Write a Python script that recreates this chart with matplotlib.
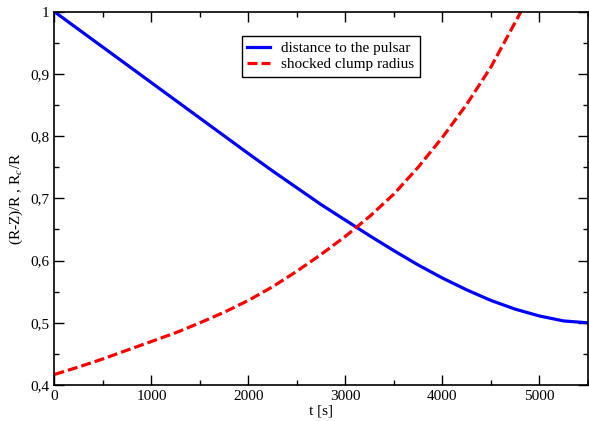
import matplotlib
matplotlib.use("Agg")
import matplotlib.pyplot as plt
from matplotlib.ticker import MultipleLocator, FuncFormatter

t_dist = [0, 500, 1000, 1500, 2000, 2250, 2500, 2750, 3000, 3250, 3500, 3750,
          4000, 4250, 4500, 4750, 5000, 5250, 5500]
dist = [1.000, 0.943, 0.886, 0.829, 0.772, 0.744, 0.717, 0.690, 0.665, 0.640, 0.616, 0.593,
        0.572, 0.553, 0.536, 0.522, 0.511, 0.503, 0.500]

t_clump = [0, 250, 500, 750, 1000, 1250, 1500, 1750, 2000, 2250, 2500, 2750, 3000,
           3250, 3500, 3750, 4000, 4250, 4500, 4810]
clump = [0.417, 0.429, 0.442, 0.456, 0.470, 0.484, 0.500, 0.517, 0.536, 0.558, 0.583, 0.610,
         0.639, 0.671, 0.707, 0.750, 0.798, 0.851, 0.911, 1.000]

labels = ["distance to the pulsar", "shocked clump radius"]

plt.rcParams['font.family'] = ['Liberation Serif', 'DejaVu Serif']
plt.rcParams['mathtext.fontset'] = 'stix'
plt.rcParams['lines.scale_dashes'] = False

fig = plt.figure(figsize=(5.89, 4.21), dpi=100)
ax = fig.add_axes([0.0925, 0.0855, 0.9055, 0.8865])

ax.plot(t_dist, dist, color='#0000ff', lw=2.3, label=labels[0])
ax.plot(t_clump, clump, color='#ff0000', lw=2.3, dashes=(7.2, 2.9), label=labels[1])

ax.set_xlim(0, 5500)
ax.set_ylim(0.4, 1.0)
ax.xaxis.set_major_locator(MultipleLocator(1000))
ax.xaxis.set_minor_locator(MultipleLocator(500))
ax.yaxis.set_major_locator(MultipleLocator(0.1))
ax.yaxis.set_minor_locator(MultipleLocator(0.05))
ax.yaxis.set_major_formatter(FuncFormatter(lambda v, p: ('%g' % round(v, 2)).replace('.', ',')))
ax.tick_params(which='both', direction='in', top=True, right=True, labelsize=11)
ax.tick_params(which='major', length=7, width=1)
ax.tick_params(which='minor', length=3.5, width=1)
for s in ax.spines.values():
    s.set_linewidth(1.2)

ax.set_xlabel('t [s]', fontsize=11, labelpad=1)
ax.set_ylabel(r'(R-Z)/R , R$_c$/R', fontsize=11, labelpad=4)

leg = ax.legend(loc='upper left', bbox_to_anchor=(0.351, 0.934), fontsize=11,
                frameon=True, fancybox=False, edgecolor='black', framealpha=1,
                handlelength=1.5, handletextpad=0.75, borderpad=0.35, labelspacing=0.15,
                borderaxespad=0)
leg.get_frame().set_linewidth(1.0)

fig.savefig('out.png', dpi=100)
